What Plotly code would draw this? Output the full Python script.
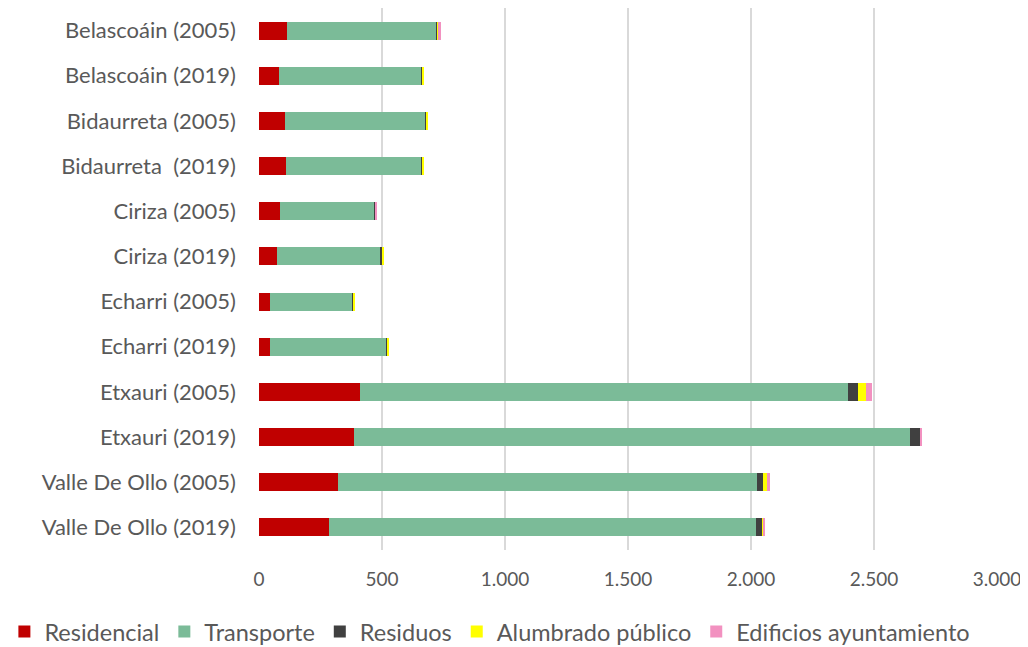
import plotly.graph_objects as go

categories = ["Belascoáin (2005)", "Belascoáin (2019)", "Bidaurreta (2005)", "Bidaurreta  (2019)",
              "Ciriza (2005)", "Ciriza (2019)", "Echarri (2005)", "Echarri (2019)",
              "Etxauri (2005)", "Etxauri (2019)", "Valle De Ollo (2005)", "Valle De Ollo (2019)"]
residencial = [115, 80, 105, 110, 85, 75, 45, 45, 410, 385, 320, 285]
transporte = [605, 580, 570, 550, 385, 420, 335, 475, 1985, 2260, 1705, 1735]
residuos = [7, 5, 6, 6, 5, 7, 4, 4, 40, 42, 25, 28]
alumbrado = [3, 6, 7, 2, 0, 3, 4, 4, 32, 3, 18, 3]
edificios = [8, 0, 0, 0, 6, 0, 0, 0, 25, 3, 8, 6]

series = [
    ("Residencial", residencial, "#C00000"),
    ("Transporte", transporte, "#7BBB98"),
    ("Residuos", residuos, "#404040"),
    ("Alumbrado público", alumbrado, "#FFFF00"),
    ("Edificios ayuntamiento", edificios, "#F291C0"),
]

fig = go.Figure()
for name, vals, color in series:
    fig.add_trace(go.Bar(y=categories, x=vals, name=name, orientation="h",
                         marker=dict(color=color, line=dict(width=0))))

font_family = "Lato, 'Open Sans', sans-serif"
fig.update_layout(
    barmode="stack",
    bargap=0.6,
    width=1020, height=639,
    margin=dict(l=251, r=31, t=0, b=97, autoexpand=False),
    plot_bgcolor="white", paper_bgcolor="white",
    separators=",.",
    font=dict(family=font_family, size=18, color="#595959"),
    legend=dict(orientation="h", x=-0.345, xanchor="left", y=-0.151, yanchor="middle",
                font=dict(size=23.5, color="#595959"), traceorder="normal",
                itemwidth=30, tracegroupgap=0),
    xaxis=dict(range=[0, 3000], dtick=500, separatethousands=True, showgrid=True,
               gridcolor="#D9D9D9", gridwidth=2, zeroline=False, showline=False,
               ticks="", ticklabelstandoff=16, tickfont=dict(size=19, color="#595959")),
    yaxis=dict(autorange="reversed", showgrid=False, zeroline=False, showline=False,
               ticks="", ticklabelstandoff=22, tickfont=dict(size=22, color="#595959")),
)

fig.write_html("out.html")
